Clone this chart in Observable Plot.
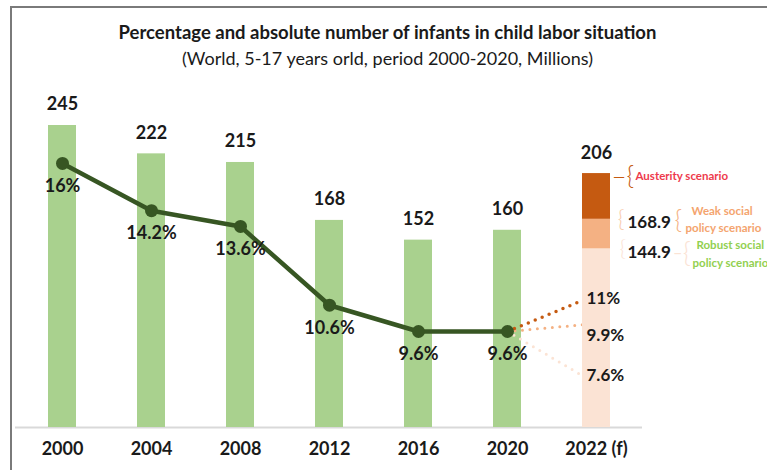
<!DOCTYPE html>
<html>
<head>
<meta charset="utf-8">
<script src="https://cdn.jsdelivr.net/npm/d3@7"></script>
<script src="https://cdn.jsdelivr.net/npm/@observablehq/plot@0.6"></script>
<style>
  html, body { margin: 0; padding: 0; background: #fff; }
  #wrap { position: relative; width: 767px; height: 470px; overflow: hidden; font-family: Lato, "Open Sans", sans-serif; }
  #frame { position: absolute; left: 10px; top: 6px; width: 800px; height: 500px; border-top: 2px solid #7a7a7a; border-left: 2px solid #7a7a7a; pointer-events: none; }
  #titles { height: 75px; padding-left: 8px; text-align: center; color: #1a1a1a; box-sizing: border-box; }
  #title { padding-top: 21px; font-size: 18.5px; font-weight: 700; line-height: 22px; }
  #subtitle { font-size: 18px; font-weight: 400; line-height: 22px; margin-top: 4px; }
  #chart svg { display: block; overflow: hidden; }
</style>
</head>
<body>
<div id="wrap">
  <div id="frame"></div>
  <div id="titles">
    <div id="title">Percentage and absolute number of infants in child labor situation</div>
    <div id="subtitle">(World, 5-17 years orld, period 2000-2020, Millions)</div>
  </div>
  <div id="chart"></div>
</div>
<script>
// ---- data ----
const years = ["2000", "2004", "2008", "2012", "2016", "2020"];
const counts = [245, 222, 215, 168, 152, 160];
const percents = [16, 14.2, 13.6, 10.6, 9.6, 9.6];
const forecastYear = "2022 (f)";
const scenarioNames = ["Robust social policy scenario", "Weak social policy scenario", "Austerity scenario"];
const scenarioTotals = [144.9, 168.9, 206];
const scenarioPercents = [7.6, 9.9, 11];

// ---- derived tables ----
const categories = [...years, forecastYear];
const hist = years.map((y, i) => ({year: y, count: counts[i], pct: percents[i]}));
const scen = scenarioNames.map((n, i) => ({
  name: n, year: forecastYear,
  lo: i === 0 ? 0 : scenarioTotals[i - 1], hi: scenarioTotals[i],
  total: scenarioTotals[i], pct: scenarioPercents[i]
}));
// secondary (percent) axis mapped onto the count axis
const pctToY = p => 77.9 + (p - 9.6) * 21.3;
const last = hist[hist.length - 1];
const links = scen.map(s => ({x1: last.year, x2: forecastYear, y1: pctToY(last.pct), y2: pctToY(s.pct), name: s.name, pct: s.pct}));

const segColors = ["#fbe3d4", "#f4b183", "#c55a11"];
const linkColors = ["#fbe3d4", "#f4b183", "#c55a11"];
const font = "Lato, 'Open Sans', sans-serif";

const chart = Plot.plot({
  width: 767,
  height: 395,
  marginLeft: 15,
  marginRight: 125,
  marginTop: 50,
  marginBottom: 43,
  style: {fontFamily: font, background: "white", overflow: "hidden"},
  x: {type: "band", domain: categories, paddingInner: 0.69, paddingOuter: 0.345, label: null},
  y: {domain: [0, 245], axis: null},
  marks: [
    Plot.ruleY([0], {stroke: "#d9d9d9", strokeWidth: 2}),
    Plot.barY(hist, {x: "year", y: "count", fill: "#a9d18e"}),
    // dotted projections
    ...[0, 1, 2].map(i => Plot.link([links[i]], {
      x1: "x1", x2: "x2", y1: "y1", y2: "y2",
      stroke: linkColors[i], strokeWidth: i === 2 ? 3.5 : 3,
      strokeDasharray: "0 7.5", strokeLinecap: "round"
    })),
    Plot.barY(scen, {x: "year", y1: "lo", y2: "hi", fill: d => segColors[scenarioNames.indexOf(d.name)]}),
    // value labels on bars
    Plot.text(hist, {x: "year", y: "count", text: d => String(d.count), dy: -21, fontSize: 18, fontWeight: 700, fill: "#1a1a1a"}),
    Plot.text(scen.slice(2), {x: "year", y: "total", text: d => String(d.total), dy: -20, fontSize: 18, fontWeight: 700, fill: "#1a1a1a"}),
    // percent line
    Plot.line(hist, {x: "year", y: d => pctToY(d.pct), stroke: "#375623", strokeWidth: 4.5}),
    Plot.dot(hist, {x: "year", y: d => pctToY(d.pct), r: 6.5, fill: "#375623"}),
    Plot.text(hist, {x: "year", y: d => pctToY(d.pct), text: d => d.pct + "%", dy: 23, fontSize: 18, fontWeight: 700, fill: "#1a1a1a"}),
    // scenario percents
    ...[[2, 4], [1, 12], [0, -8]].map(([i, dy]) => Plot.text([scen[i]], {
      x: "year", y: d => pctToY(d.pct), text: d => d.pct + "%", dx: -10, dy,
      textAnchor: "start", fontSize: 17, fontWeight: 700, fill: "#1a1a1a"
    })),
    // scenario annotations
    Plot.text([scen[2]], {x: "year", y: "total", text: () => "\u2013{", dx: 15, dy: 3, textAnchor: "start", fontSize: 26, fontWeight: 300, fill: "#c55a11"}),
    Plot.text([scen[2]], {x: "year", y: "total", text: () => "Austerity scenario", dx: 39, dy: 3, textAnchor: "start", fontSize: 11.5, fontWeight: 700, fill: "#ee3a4c"}),
    Plot.text(scen.slice(0, 2), {x: "year", y: "total", text: d => d.total.toFixed(1), dx: 31, dy: 3.5, textAnchor: "start", fontSize: 17, fontWeight: 700, fill: "#1a1a1a"}),
    Plot.text([scen[1]], {x: "year", y: "total", text: () => "{", dx: 21, dy: 0, textAnchor: "start", fontSize: 24, fontWeight: 300, fill: "#f8cbad"}),
    Plot.text([scen[1]], {x: "year", y: "total", text: () => "{", dx: 78, dy: 1, textAnchor: "start", fontSize: 26, fontWeight: 300, fill: "#f4b183"}),
    Plot.text([scen[1]], {x: "year", y: "total", text: () => "Weak social", dx: 95, dy: -8, textAnchor: "start", fontSize: 11.5, fontWeight: 700, fill: "#f4a46e"}),
    Plot.text([scen[1]], {x: "year", y: "total", text: () => "policy scenario", dx: 89, dy: 9, textAnchor: "start", fontSize: 11.5, fontWeight: 700, fill: "#f4a46e"}),
    Plot.text([scen[0]], {x: "year", y: "total", text: () => "{", dx: 23, dy: 0, textAnchor: "start", fontSize: 22, fontWeight: 300, fill: "#fbe3d4"}),
    Plot.text([scen[0]], {x: "year", y: "total", text: () => "-{", dx: 76, dy: 4, textAnchor: "start", fontSize: 28, fontWeight: 300, fill: "#fbe3d4"}),
    Plot.text([scen[0]], {x: "year", y: "total", text: () => "Robust social", dx: 100, dy: -4, textAnchor: "start", fontSize: 11.5, fontWeight: 700, fill: "#92d050"}),
    Plot.text([scen[0]], {x: "year", y: "total", text: () => "policy scenario", dx: 96, dy: 14, textAnchor: "start", fontSize: 11.5, fontWeight: 700, fill: "#92d050"}),
    Plot.axisX({tickSize: 0, tickPadding: 15, fontSize: 18, fontWeight: 700, fill: "#1a1a1a", label: null})
  ]
});
document.getElementById("chart").appendChild(chart);
</script>
</body>
</html>
